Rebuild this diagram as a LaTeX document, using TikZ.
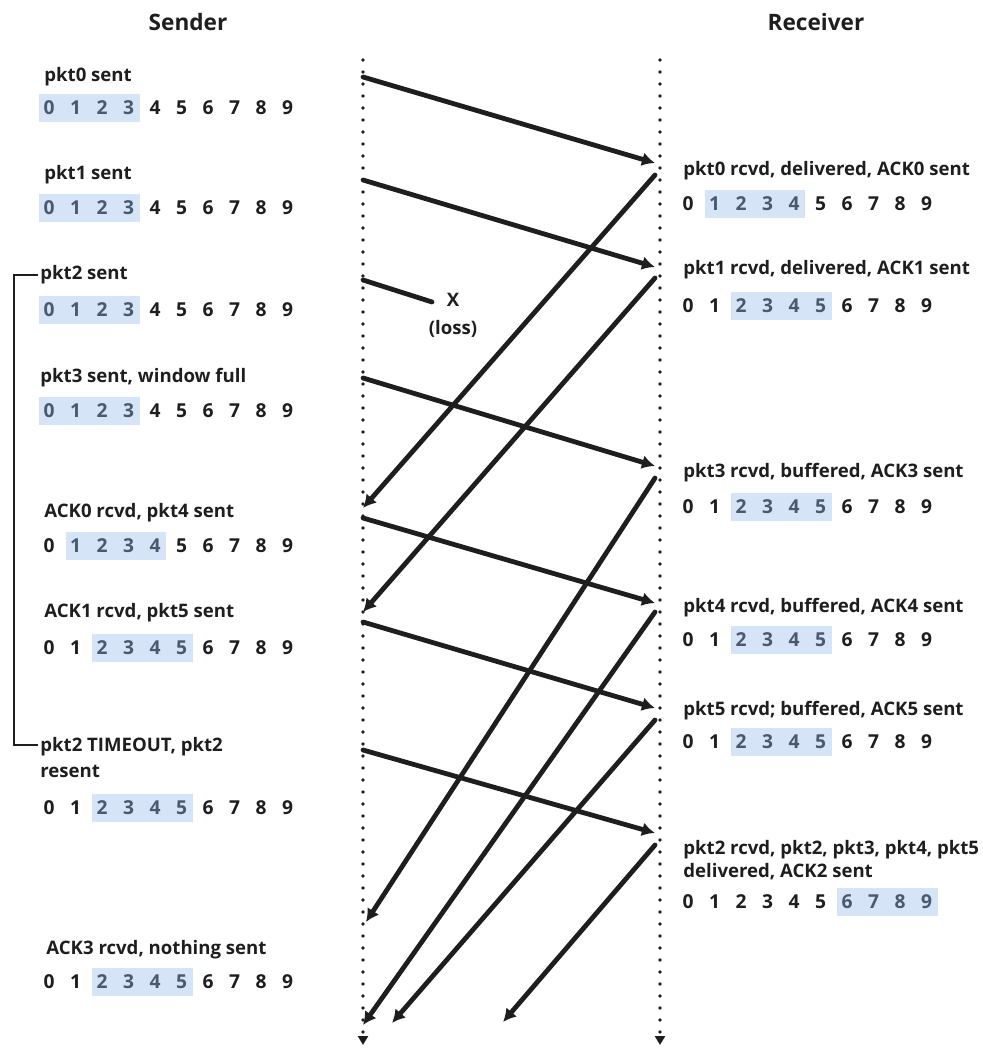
\documentclass[tikz,border=0pt]{standalone}
\usepackage{fontspec}
\setmainfont{Open Sans}
\usetikzlibrary{arrows.meta, positioning}
\definecolor{tinta}{HTML}{1E1E1E}
\definecolor{azulVentana}{HTML}{D5E4F6}
\definecolor{tintaVentana}{HTML}{4A5970}
\tikzset{
  titulo/.style={font=\fontsize{11.3}{13}\selectfont\bfseries, text=tinta},
  etiqueta/.style={anchor=west, font=\fontsize{9.3}{13}\selectfont\bfseries,
    text=tinta, inner sep=0pt, align=left},
  digito/.style={font=\fontsize{9.6}{11}\selectfont\bfseries, text=tinta, inner sep=0pt},
  digitoVentana/.style={digito, text=tintaVentana},
  ventana/.style={fill=azulVentana, draw=none},
  lineaTiempo/.style={line width=1.9pt, dash pattern=on 0pt off 6pt, line cap=round,
    tinta, -{Triangle[length=4.5pt,width=5pt]}},
  flecha/.style={line width=2.4pt, line cap=round, tinta, -{Latex[length=6.5pt,width=7pt]}},
  flechaPerdida/.style={line width=2.4pt, line cap=round, tinta},
  corchete/.style={line width=1pt, tinta},
}
% fila de numeros de secuencia: nombre, x, y, primero y ultimo de la ventana
\newcommand{\filaVentana}[5]{%
  \fill[ventana] ({#2+#4*26.5-10},{#3-14}) rectangle ({#2+#5*26.5+11},{#3+14});
  \foreach \d in {0,...,9}{
    \pgfmathtruncatemacro\dentro{(\d>=#4 && \d<=#5) ? 1 : 0}
    \ifnum\dentro=1
      \node[digitoVentana] (#1-\d) at ({#2+\d*26.5},#3) {\d};
    \else
      \node[digito] (#1-\d) at ({#2+\d*26.5},#3) {\d};
    \fi
  }
}

\begin{document}
\begin{tikzpicture}[x=0.5pt, y=-0.5pt]
  \useasboundingbox (0,0) rectangle (982,1048);

  \node[titulo] (emisor) at (188,22) {Sender};
  \node[titulo] (receptor) at (816,22) {Receiver};

  % lineas de tiempo
  \coordinate (emisorArriba) at (363,60);
  \coordinate (emisorAbajo) at (363,1045);
  \coordinate (receptorArriba) at (660,60);
  \coordinate (receptorAbajo) at (660,1045);
  \draw[lineaTiempo] (emisorArriba) -- (emisorAbajo);
  \draw[lineaTiempo] (receptorArriba) -- (receptorAbajo);

  % lado del emisor
  \node[etiqueta] (e0) at (44,77) {pkt0 sent};
  \filaVentana{ve0}{49}{108}{0}{3}
  \node[etiqueta] (e1) at (44,175) {pkt1 sent};
  \filaVentana{ve1}{49}{208}{0}{3}
  \node[etiqueta] (e2) at (40,275) {pkt2 sent};
  \filaVentana{ve2}{49}{310}{0}{3}
  \node[etiqueta] (e3) at (40,378) {pkt3 sent, window full};
  \filaVentana{ve3}{49}{411}{0}{3}
  \node[etiqueta] (e4) at (44,513) {ACK0 rcvd, pkt4 sent};
  \filaVentana{ve4}{49}{546}{1}{4}
  \node[etiqueta] (e5) at (44,613) {ACK1 rcvd, pkt5 sent};
  \filaVentana{ve5}{49}{648}{2}{5}
  \node[etiqueta] (e6) at (40,758) {pkt2 TIMEOUT, pkt2\\resent};
  \filaVentana{ve6}{49}{808}{2}{5}
  \node[etiqueta] (e7) at (46,950) {ACK3 rcvd, nothing sent};
  \filaVentana{ve7}{49}{982}{2}{5}

  \coordinate (corcheteAbajo) at (38,745);
  \draw[corchete] ([xshift=-1pt]e2.west) -- ++(-24,0) |- (corcheteAbajo);

  % lado del receptor
  \node[etiqueta] (r0) at (683,171) {pkt0 rcvd, delivered, ACK0 sent};
  \filaVentana{vr0}{688}{204}{1}{4}
  \node[etiqueta] (r1) at (683,270) {pkt1 rcvd, delivered, ACK1 sent};
  \filaVentana{vr1}{688}{306}{2}{5}
  \node[etiqueta] (r3) at (683,473) {pkt3 rcvd, buffered, ACK3 sent};
  \filaVentana{vr3}{688}{507}{2}{5}
  \node[etiqueta] (r4) at (683,608) {pkt4 rcvd, buffered, ACK4 sent};
  \filaVentana{vr4}{688}{640}{2}{5}
  \node[etiqueta] (r5) at (683,711) {pkt5 rcvd; buffered, ACK5 sent};
  \filaVentana{vr5}{688}{742}{2}{5}
  \node[etiqueta, align=left, font=\fontsize{9.3}{11.5}\selectfont\bfseries]
    (r2) at (683,860) {pkt2 rcvd, pkt2, pkt3, pkt4, pkt5\\delivered, ACK2 sent};
  \filaVentana{vr2}{688}{902}{6}{9}

  % paquetes de datos
  \foreach \nombre/\ys/\yr in {p0/77/163, p1/180/267, p3/378/466,
      p4/518/603, p5/622/708, p2b/750/833}{
    \coordinate (\nombre-sal) at (363,\ys);
    \coordinate (\nombre-lleg) at (655,\yr);
    \draw[flecha] (\nombre-sal) -- (\nombre-lleg);
  }

  % pkt2 se pierde
  \coordinate (p2-sal) at (363,280);
  \node[etiqueta, anchor=center] (perdida) at (453,300) {X};
  \node[etiqueta, anchor=center] (perdidaTxt) at (453,329) {(loss)};
  \coordinate (p2-fin) at (432,302);
  \draw[flechaPerdida] (p2-sal) -- (p2-fin);

  % acks
  \foreach \nombre/\yr/\xs/\ys in {a0/175/363/508, a1/278/363/612, a3/478/366/922,
      a4/612/363/1025, a5/720/392/1023, a2/845/503/1022}{
    \coordinate (\nombre-sal) at (655,\yr);
    \coordinate (\nombre-lleg) at (\xs,\ys);
    \draw[flecha] (\nombre-sal) -- (\nombre-lleg);
  }
\end{tikzpicture}
\end{document}
